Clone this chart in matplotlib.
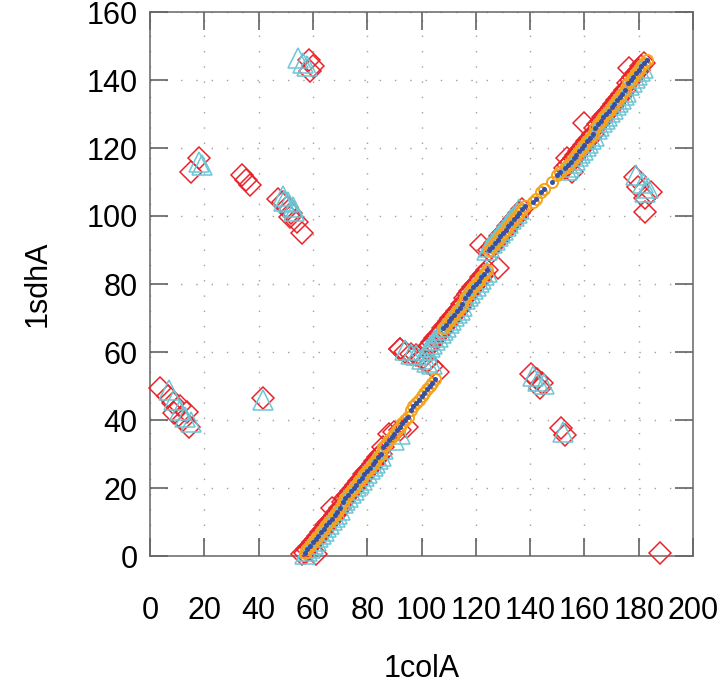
import matplotlib
matplotlib.use("Agg")
import matplotlib.pyplot as plt

plt.rcParams['font.family'] = ['Liberation Sans', 'DejaVu Sans']

# ---- data: aligned residue pairs (1colA, 1sdhA) ----
# blue dots (method 4)
blue_x = [57, 58, 59, 60, 61, 62, 63, 64, 65, 66, 67, 68, 69, 70, 71, 72, 73, 74, 75, 76,
          77, 78, 79, 80, 81, 82, 83, 84, 85, 86, 87, 88, 89, 90, 91, 92, 93, 94, 95, 96,
          97, 98, 99, 100, 101, 102, 103, 104, 105,
          108, 109, 110, 111, 112, 113, 114, 115, 116, 117, 118, 119, 120, 121, 122, 123, 124,
          125, 126, 127, 128, 129, 130, 131, 132, 133, 134, 135, 136, 137, 138,
          141, 142, 144, 145, 148, 150, 151,
          153, 154, 155, 156, 157, 158, 159, 160, 161, 162, 163, 164, 165, 166, 167, 168,
          169, 170, 171, 172, 173, 174, 175, 176, 177, 178, 179, 180, 181, 182, 183]
blue_y = [1, 2, 3, 4, 5, 6, 7, 8, 9, 10, 11, 12, 13, 14, 16, 17, 18, 19, 20, 21,
          22, 23, 24, 25, 26, 27, 28, 29, 30, 32, 33, 34, 35, 36, 37, 38, 39, 40, 41, 43,
          44, 45, 46, 47, 48, 49, 50, 51, 52,
          67, 68, 69, 70, 71, 72, 73, 74, 76, 77, 78, 79, 80, 81, 82, 83, 84,
          90, 91, 92, 93, 94, 95, 96, 97, 98, 99, 100, 101, 102, 103,
          104, 105, 107, 108, 110, 112, 113,
          114, 115, 116, 117, 118, 119, 120, 121, 122, 123, 124, 126, 127, 128, 129, 130,
          131, 132, 133, 134, 135, 136, 137, 139, 140, 141, 142, 143, 144, 145, 146]

# orange circles (method 3)
orange_x = list(blue_x)
orange_y = list(blue_y)

# red diamonds (method 1)
red_x = [56, 57, 58, 59, 60, 61, 62, 63, 64, 65, 66, 67, 68, 69, 70, 71, 72, 73, 74, 75,
         76, 77, 78, 79, 80, 81, 82, 83, 84, 85, 86, 61, 67, 88, 90, 92, 94.5,
         92, 94, 96, 98, 100, 102, 104, 106,
         102, 103, 104, 105, 106, 107, 108, 109, 110, 111, 112, 113, 114, 115, 116, 117,
         118, 119, 120, 121, 122, 123, 124, 128, 122,
         125, 126, 127, 128, 129, 130, 131, 132, 133, 134, 135, 136, 137,
         153, 154, 155, 156, 157, 158, 159, 160, 161, 162, 163, 164, 165, 166, 167, 168,
         169, 170, 171, 172, 173, 174, 175, 176, 177, 178, 179, 180, 181, 182,
         153.5, 155.5, 160, 176.5,
         15, 18, 34, 35.5, 37, 47, 49, 50.5, 52, 51.5, 54, 56,
         58.5, 60, 59, 3.5, 6.5, 8.5, 11, 13.5, 8.7, 12, 14.2, 41.5,
         92, 140.5, 142.5, 144.5, 143.5, 151.5, 153,
         178.5, 179.7, 184.5, 182.2, 182.2, 188]
red_y = [0.5, 1, 2, 3, 4, 5, 6, 7, 8, 9, 10, 11, 12, 13, 14, 16, 17, 18, 19, 20,
         21, 22, 23, 24, 25, 26, 27, 28, 29, 30, 32, 0.5, 14, 36, 36.5, 37, 38,
         61, 60, 59.5, 59, 58, 57, 56, 54,
         61, 62, 63, 64, 65, 66, 67, 68, 69, 70, 71, 72, 73, 74, 76, 77,
         78, 79, 80, 81, 82, 83, 84, 84.6, 91.5,
         90, 91, 92, 93, 94, 95, 96, 97, 98, 99, 100, 101, 102,
         114, 115, 116, 117, 118, 119, 120, 121, 122, 123, 124, 126, 127, 128, 129, 130,
         131, 132, 133, 134, 135, 136, 137, 139, 140, 141, 142, 143, 144, 145,
         117, 112.8, 127.3, 143.5,
         113, 117, 112, 110.5, 109, 105, 104, 102.5, 101, 99.8, 98.3, 95,
         146, 144, 142.5, 49.3, 47, 45, 44, 42.4, 42, 40, 38, 46.5,
         61, 53.5, 52, 51, 49.5, 37.6, 35.6,
         111.6, 108.6, 107.1, 105.2, 101.3, 1]

# cyan triangles (method 2)
cyan_x = [57, 58, 59, 60, 61, 62, 63, 64, 65, 66, 67, 68, 69, 70, 71, 72, 73, 74, 75, 76,
          77, 78, 79, 80, 81, 82, 83, 84, 85, 86, 90, 92,
          94, 96, 98, 100, 102, 104,
          102, 103, 104, 105, 106, 107, 108, 109, 110, 111, 112, 113, 114, 115, 116, 117,
          118, 119, 120, 121, 122, 123, 124,
          124, 125, 126, 127, 128, 129, 130, 131, 132, 133, 134, 135, 136,
          153.5, 154.5, 155.5, 156.5, 157.5, 158.5, 159.5, 160.5, 161.5, 162.5, 163.5, 164.5,
          165.5, 166.5, 167.5, 168.5, 169.5, 170.5, 171.5, 172.5, 173.5, 174.5, 175.5, 176.5,
          177.5, 178.5, 179.5, 180.5, 181.5,
          18, 19, 49, 49.5, 51, 52.5, 53,
          54.5, 56.5, 58, 7, 8.7, 11.2, 13, 15, 41.5,
          141, 143, 145, 152.2,
          179.1, 181.6, 183.4, 182.2]
cyan_y = [0.5, 1.5, 2.5, 3.5, 4.5, 5.5, 6.5, 7.5, 8.5, 9.5, 10.5, 11.5, 12.5, 13.5, 15.5, 16.5, 17.5, 18.5, 19.5, 20.5,
          21.5, 22.5, 23.5, 24.5, 25.5, 26.5, 27.5, 28.5, 29.5, 31.5, 34, 36,
          60.5, 59.5, 59, 58, 57, 56.5,
          60.5, 61.5, 62.5, 63.5, 64.5, 65.5, 66.5, 67.5, 68.5, 69.5, 70.5, 71.5, 72.5, 73.5, 75.5, 76.5,
          77.5, 78.5, 79.5, 80.5, 81.5, 82.5, 83.5,
          90, 91, 92, 93, 94, 95, 96, 97, 98, 99, 100, 101, 102,
          113.5, 114.5, 115.5, 116.5, 117.5, 118.5, 119.5, 120.5, 121.5, 122.5, 123.5, 125.5,
          126.5, 127.5, 128.5, 129.5, 130.5, 131.5, 132.5, 133.5, 134.5, 135.5, 136.5, 138.5,
          139.5, 140.5, 141.5, 142.5, 143.5,
          116, 115, 106, 104.5, 104, 102.5, 101.5,
          146.5, 145, 144, 48.8, 46, 43, 41, 39.5, 46,
          53, 51.5, 50.5, 36.6,
          112, 109.6, 108.1, 107.1]

x_ticks = [0, 20, 40, 60, 80, 100, 120, 140, 160, 180, 200]
y_ticks = [0, 20, 40, 60, 80, 100, 120, 140, 160]
x_label = "1colA"
y_label = "1sdhA"

# ---- figure ----
fig = plt.figure(figsize=(7.25, 6.88), dpi=100)
ax = fig.add_axes([150 / 725, 1 - 556 / 688, 543 / 725, 544 / 688])

RED = "#e8242b"
CYAN = "#6cc6d6"
ORANGE = "#f5a31c"
BLUE = "#3550a6"

ax.plot(red_x, red_y, linestyle="none", marker="D", ms=11.5, mfc="none",
        mec=RED, mew=1.1, zorder=3, clip_on=False)
ax.plot(cyan_x, cyan_y, linestyle="none", marker="^", ms=14, mfc="none",
        mec=CYAN, mew=1.1, zorder=4, clip_on=False)
ax.plot(orange_x, orange_y, linestyle="none", marker="o", ms=8, mfc="none",
        mec=ORANGE, mew=1.4, zorder=5, clip_on=False)
ax.plot(blue_x, blue_y, linestyle="none", marker="o", ms=3.6, mfc=BLUE,
        mec=BLUE, mew=0, zorder=6, clip_on=False)

ax.set_xlim(0, 200)
ax.set_ylim(0, 160)
ax.set_xticks(x_ticks)
ax.set_yticks(y_ticks)
ax.grid(True, color="#a0a0a0", linewidth=1.0, linestyle=(0, (1, 10)))
ax.set_axisbelow(True)

for s in ax.spines.values():
    s.set_color("#666666")
    s.set_linewidth(1.1)

ax.tick_params(axis="both", which="major", direction="in", length=13, width=1.1,
               color="#555555", top=True, right=True, labelsize=22)
ax.tick_params(axis="x", pad=29)
ax.tick_params(axis="y", pad=9)

ax.set_xlabel(x_label, fontsize=22, labelpad=20)
ax.set_ylabel(y_label, fontsize=22, labelpad=24)

fig.savefig("out.png", dpi=100)
